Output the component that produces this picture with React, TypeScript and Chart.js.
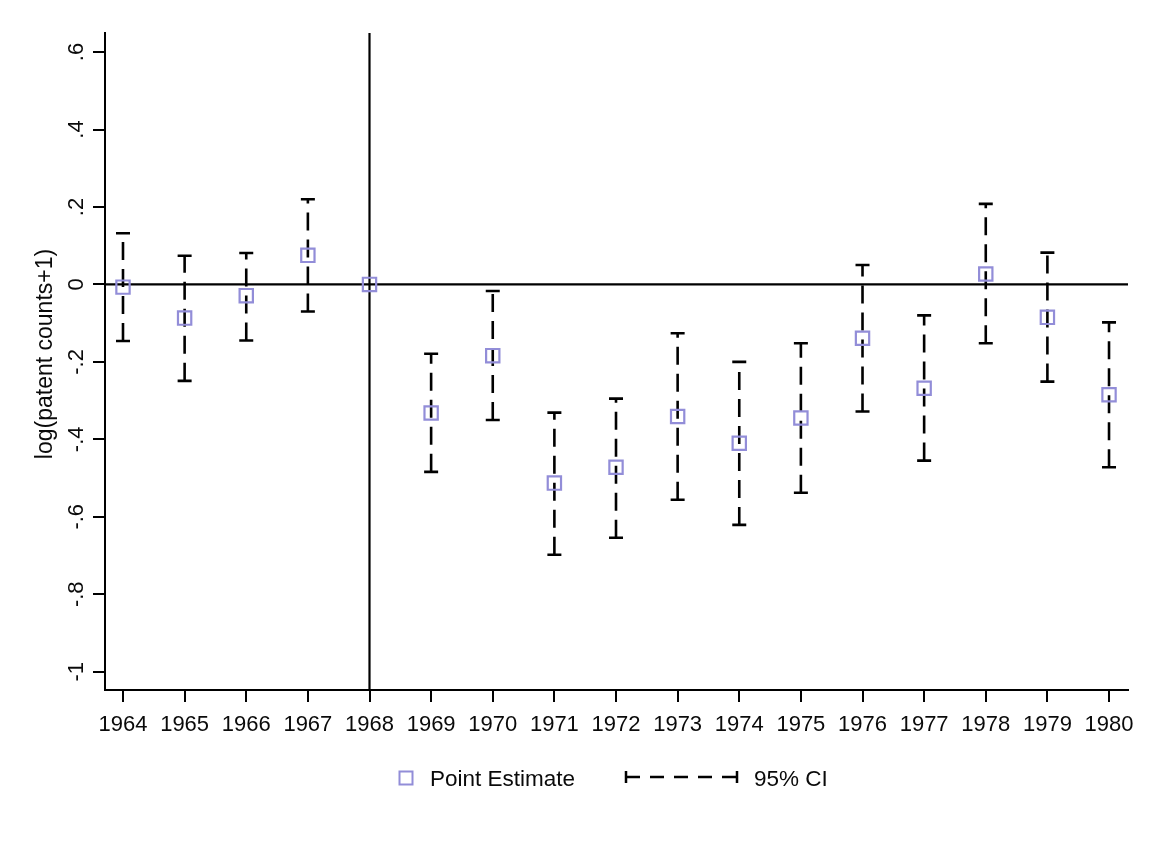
import React, { useEffect, useRef } from 'react';
import { Chart, registerables } from 'chart.js';

Chart.register(...registerables);

const years = [1964, 1965, 1966, 1967, 1968, 1969, 1970, 1971, 1972, 1973, 1974, 1975, 1976, 1977, 1978, 1979, 1980];
const estimates = [-0.007, -0.087, -0.029, 0.075, 0, -0.332, -0.184, -0.513, -0.472, -0.341, -0.41, -0.345, -0.139, -0.268, 0.027, -0.085, -0.285];
const ciLower: (number | null)[] = [-0.146, -0.249, -0.145, -0.07, null, -0.484, -0.35, -0.698, -0.654, -0.556, -0.621, -0.538, -0.328, -0.455, -0.152, -0.251, -0.472];
const ciUpper: (number | null)[] = [0.132, 0.074, 0.081, 0.22, null, -0.179, -0.017, -0.331, -0.295, -0.126, -0.2, -0.152, 0.05, -0.08, 0.208, 0.082, -0.098];
const yTicks = [-1, -0.8, -0.6, -0.4, -0.2, 0, 0.2, 0.4, 0.6];
const yTickLabels = ['-1', '-.8', '-.6', '-.4', '-.2', '0', '.2', '.4', '.6'];
const eventYear = 1968;
const yTitle = 'log(patent counts+1)';
const legendPoint = 'Point Estimate';
const legendCI = '95% CI';

const FONT = '"Liberation Sans", Arial, sans-serif';
const MARKER = '#928dd8';
const INK = '#0a0a0a';

const drawPlugin = {
  id: 'stataDraw',
  beforeDatasetsDraw(chart: any) {
    const { ctx, chartArea, scales } = chart;
    const x = scales.x;
    const y = scales.y;
    ctx.save();
    ctx.strokeStyle = '#000';
    ctx.lineWidth = 2.2;
    const xe = x.getPixelForValue(eventYear);
    ctx.beginPath();
    ctx.moveTo(xe, chartArea.top);
    ctx.lineTo(xe, chartArea.bottom);
    ctx.stroke();
    const y0 = y.getPixelForValue(0);
    ctx.beginPath();
    ctx.moveTo(chartArea.left, y0);
    ctx.lineTo(chartArea.right, y0);
    ctx.stroke();

    ctx.lineWidth = 2.6;
    years.forEach((yr, i) => {
      const lo = ciLower[i];
      const hi = ciUpper[i];
      if (lo == null || hi == null) return;
      const px = x.getPixelForValue(yr);
      const pl = y.getPixelForValue(lo);
      const ph = y.getPixelForValue(hi);
      ctx.setLineDash([18, 9]);
      ctx.beginPath();
      ctx.moveTo(px, pl);
      ctx.lineTo(px, ph);
      ctx.stroke();
      ctx.setLineDash([]);
      ctx.beginPath();
      ctx.moveTo(px - 7, pl);
      ctx.lineTo(px + 7, pl);
      ctx.moveTo(px - 7, ph);
      ctx.lineTo(px + 7, ph);
      ctx.stroke();
    });
    ctx.restore();
  },
  afterDraw(chart: any) {
    const { ctx, scales } = chart;
    const x = scales.x;
    const y = scales.y;
    ctx.save();
    ctx.fillStyle = INK;
    ctx.font = `22px ${FONT}`;
    ctx.textAlign = 'center';
    ctx.textBaseline = 'alphabetic';
    years.forEach((yr) => {
      ctx.fillText(String(yr), x.getPixelForValue(yr), 731);
    });
    yTicks.forEach((v, i) => {
      ctx.save();
      ctx.translate(83, y.getPixelForValue(v));
      ctx.rotate(-Math.PI / 2);
      ctx.fillText(yTickLabels[i], 0, 0);
      ctx.restore();
    });
    ctx.save();
    ctx.font = `23px ${FONT}`;
    ctx.translate(52, 354);
    ctx.rotate(-Math.PI / 2);
    ctx.fillText(yTitle, 0, 0);
    ctx.restore();

    // legend
    ctx.strokeStyle = MARKER;
    ctx.lineWidth = 2;
    ctx.strokeRect(406 - 6.5, 778 - 6.5, 13, 13);
    ctx.font = `22.5px ${FONT}`;
    ctx.textAlign = 'left';
    ctx.fillText(legendPoint, 430, 786);
    ctx.strokeStyle = '#000';
    ctx.lineWidth = 2.5;
    ctx.setLineDash([14, 10]);
    ctx.beginPath();
    ctx.moveTo(626, 777);
    ctx.lineTo(737, 777);
    ctx.stroke();
    ctx.setLineDash([]);
    ctx.beginPath();
    ctx.moveTo(626, 771);
    ctx.lineTo(626, 783);
    ctx.moveTo(737, 771);
    ctx.lineTo(737, 783);
    ctx.stroke();
    ctx.fillText(legendCI, 754, 786);
    ctx.restore();
  },
};

export default function App() {
  const ref = useRef<HTMLCanvasElement | null>(null);
  useEffect(() => {
    if (!ref.current) return;
    const chart = new Chart(ref.current, {
      type: 'scatter',
      data: {
        datasets: [
          {
            label: legendPoint,
            data: years.map((yr, i) => ({ x: yr, y: estimates[i] })),
            pointStyle: 'rect',
            pointRadius: 9.4,
            pointHoverRadius: 9.4,
            borderColor: MARKER,
            backgroundColor: 'rgba(0,0,0,0)',
            borderWidth: 2.2,
            showLine: false,
          },
        ],
      },
      options: {
        responsive: false,
        animation: false,
        events: [],
        layout: { padding: { top: 33, right: 28, left: 0, bottom: 0 } },
        plugins: { legend: { display: false }, tooltip: { enabled: false } },
        scales: {
          x: {
            type: 'linear',
            min: 1963.708,
            max: 1980.308,
            afterBuildTicks: (s: any) => {
              s.ticks = years.map((v) => ({ value: v }));
            },
            afterFit: (s: any) => {
              s.height = 154;
            },
            ticks: { display: false },
            grid: { display: true, drawOnChartArea: false, drawTicks: true, tickLength: 12, color: '#000', lineWidth: 2 },
            border: { display: true, color: '#000', width: 2 },
          },
          y: {
            type: 'linear',
            min: -1.0473,
            max: 0.6492,
            afterBuildTicks: (s: any) => {
              s.ticks = yTicks.map((v) => ({ value: v }));
            },
            afterFit: (s: any) => {
              s.width = 105;
            },
            ticks: { display: false },
            grid: { display: true, drawOnChartArea: false, drawTicks: true, tickLength: 12, color: '#000', lineWidth: 2 },
            border: { display: true, color: '#000', width: 2 },
          },
        },
      } as any,
      plugins: [drawPlugin],
    });
    return () => chart.destroy();
  }, []);
  return (
    <div style={{ position: 'absolute', left: 0, top: 0, width: 1156, height: 844, background: '#fff' }}>
      <canvas ref={ref} width={1156} height={844} style={{ display: 'block' }} />
    </div>
  );
}
